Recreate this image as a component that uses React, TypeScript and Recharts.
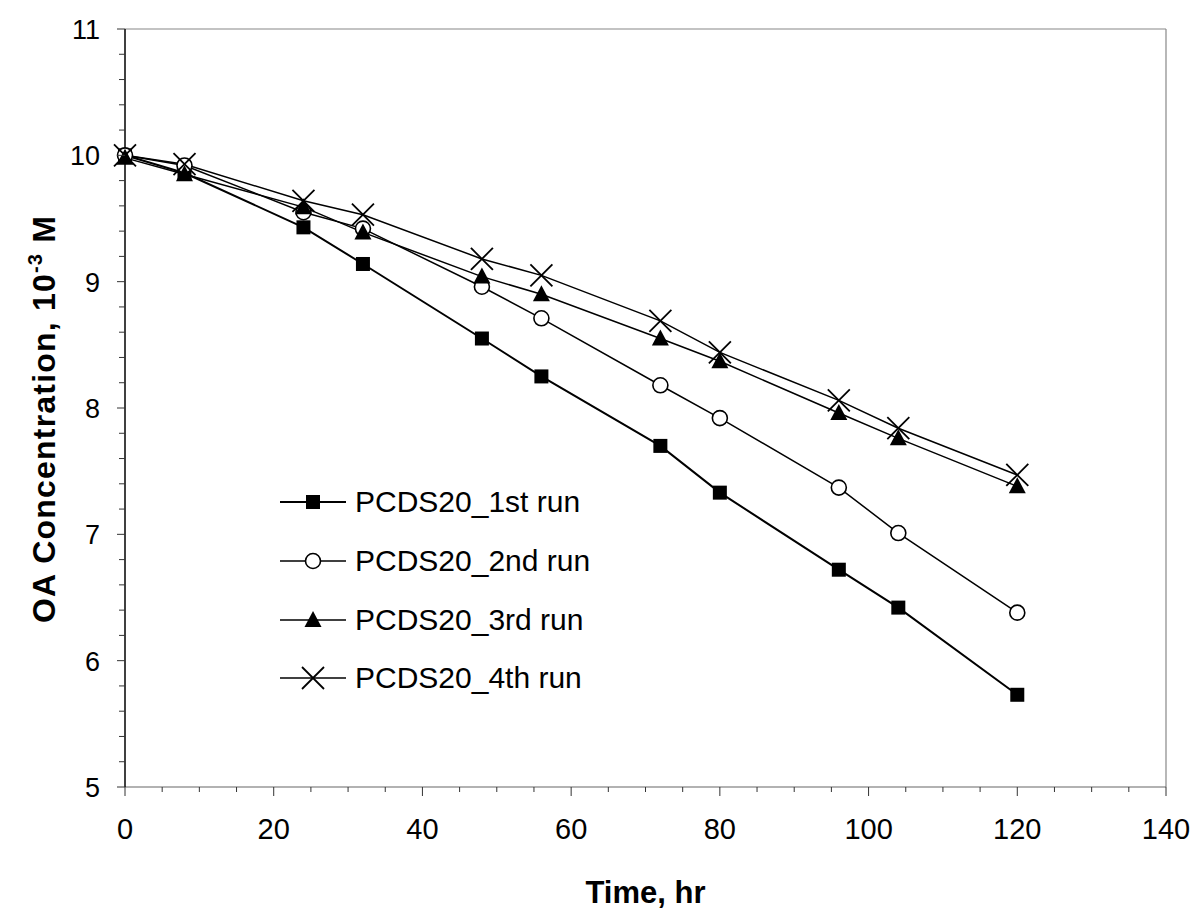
import React from "react";
import {
  LineChart,
  Line,
  XAxis,
  YAxis,
  Legend,
  ReferenceLine,
} from "recharts";

// Time (hr) and OA concentration (10^-3 M)
const times = [0, 8, 24, 32, 48, 56, 72, 80, 96, 104, 120];
const run1 = [10.0, 9.86, 9.43, 9.14, 8.55, 8.25, 7.7, 7.33, 6.72, 6.42, 5.73];
const run2 = [10.0, 9.92, 9.55, 9.42, 8.96, 8.71, 8.18, 7.92, 7.37, 7.01, 6.38];
const run3 = [9.98, 9.85, 9.59, 9.39, 9.04, 8.9, 8.55, 8.37, 7.96, 7.76, 7.38];
const run4 = [10.0, 9.93, 9.64, 9.53, 9.18, 9.05, 8.69, 8.44, 8.06, 7.84, 7.47];

const seriesNames = [
  "PCDS20_1st run",
  "PCDS20_2nd run",
  "PCDS20_3rd run",
  "PCDS20_4th run",
];

const xTicks = [
  0, 5, 10, 15, 20, 25, 30, 35, 40, 45, 50, 55, 60, 65, 70, 75, 80, 85, 90, 95,
  100, 105, 110, 115, 120, 125, 130, 135, 140,
];
const yTicks = [
  5, 5.2, 5.4, 5.6, 5.8, 6, 6.2, 6.4, 6.6, 6.8, 7, 7.2, 7.4, 7.6, 7.8, 8, 8.2,
  8.4, 8.6, 8.8, 9, 9.2, 9.4, 9.6, 9.8, 10, 10.2, 10.4, 10.6, 10.8, 11,
];

const data = times.map((t, i) => ({
  time: t,
  run1: run1[i],
  run2: run2[i],
  run3: run3[i],
  run4: run4[i],
}));

const FONT = "Arial, 'Liberation Sans', sans-serif";

// marker shapes, shared by the dots and the legend
function Marker({ kind, cx, cy }: { kind: string; cx: number; cy: number }) {
  if (kind === "square")
    return <rect x={cx - 7} y={cy - 7} width={14} height={14} fill="#000" />;
  if (kind === "circle")
    return <circle cx={cx} cy={cy} r={7.5} fill="#fff" stroke="#000" strokeWidth={1.6} />;
  if (kind === "triangle")
    return (
      <polygon
        points={`${cx},${cy - 9} ${cx - 8.5},${cy + 7} ${cx + 8.5},${cy + 7}`}
        fill="#000"
      />
    );
  return (
    <g stroke="#000" strokeWidth={1.8}>
      <line x1={cx - 11} y1={cy - 11} x2={cx + 11} y2={cy + 11} />
      <line x1={cx - 11} y1={cy + 11} x2={cx + 11} y2={cy - 11} />
    </g>
  );
}

const kinds = ["square", "circle", "triangle", "cross"];
const keys = ["run1", "run2", "run3", "run4"];
const widths = [2, 1.5, 1.5, 1.5];

const makeDot = (kind: string) => (props: any) => (
  <g key={`${kind}-${props.index}`}>
    <Marker kind={kind} cx={props.cx} cy={props.cy} />
  </g>
);

const XTick = ({ x, y, payload }: any) => {
  const major = payload.value % 20 === 0;
  return (
    <g>
      <line x1={x} x2={x} y1={y} y2={y + (major ? 9 : 5)} stroke="#333" strokeWidth={1} />
      {major && (
        <text x={x} y={y + 52} textAnchor="middle" fontSize={29} fontFamily={FONT} fill="#000">
          {payload.value}
        </text>
      )}
    </g>
  );
};

const YTick = ({ x, y, payload }: any) => {
  const v = payload.value;
  const major = Math.abs(v - Math.round(v)) < 1e-6;
  return (
    <g>
      <line x1={x - (major ? 8 : 6)} x2={x} y1={y} y2={y} stroke="#333" strokeWidth={1} />
      {major && (
        <text x={x - 25} y={y + 10} textAnchor="end" fontSize={27} fontFamily={FONT} fill="#000">
          {Math.round(v)}
        </text>
      )}
    </g>
  );
};

const renderLegend = () => (
  <div style={{ fontFamily: FONT, fontSize: 30, color: "#000" }}>
    {seriesNames.map((name, i) => (
      <div key={name} style={{ display: "flex", alignItems: "center", height: 58.7 }}>
        <svg width={66} height={30} style={{ display: "block" }}>
          <line x1={0} x2={66} y1={15} y2={15} stroke="#000" strokeWidth={widths[i]} />
          <Marker kind={kinds[i]} cx={33} cy={15} />
        </svg>
        <span style={{ marginLeft: 9, whiteSpace: "nowrap" }}>{name}</span>
      </div>
    ))}
  </div>
);

export default function App() {
  return (
    <div style={{ position: "absolute", left: 0, top: 0, background: "#fff", fontFamily: FONT }}>
      <LineChart
        width={1194}
        height={912}
        data={data}
        margin={{ top: 29, right: 28, left: 45, bottom: 45 }}
      >
        <ReferenceLine y={11} stroke="#888" strokeWidth={1.2} />
        <ReferenceLine x={140} stroke="#888" strokeWidth={1.2} />
        <XAxis
          type="number"
          dataKey="time"
          domain={[0, 140]}
          ticks={xTicks}
          interval={0}
          height={80}
          tickSize={0}
          tickMargin={0}
          tickLine={false}
          tick={<XTick />}
          axisLine={{ stroke: "#666", strokeWidth: 1.2 }}
          label={{
            content: ({ viewBox }: any) => (
              <text
                x={viewBox.x + viewBox.width / 2}
                y={viewBox.y + 116}
                textAnchor="middle"
                fontSize={31}
                fontWeight="bold"
                fontFamily={FONT}
                fill="#000"
              >
                Time, hr
              </text>
            ),
          }}
        />
        <YAxis
          type="number"
          domain={[5, 11]}
          ticks={yTicks}
          interval={0}
          width={80}
          tickSize={0}
          tickMargin={0}
          tickLine={false}
          tick={<YTick />}
          axisLine={{ stroke: "#000", strokeWidth: 1.5 }}
          label={{
            content: () => (
              <text
                x={0}
                y={0}
                transform="translate(55 419) rotate(-90)"
                textAnchor="middle"
                fontSize={32}
                fontWeight="bold"
                fontFamily={FONT}
                letterSpacing={1.2}
                fill="#000"
              >
                OA Concentration, 10
                <tspan dy={-13} fontSize={20}>-3</tspan>
                <tspan dy={13}> M</tspan>
              </text>
            ),
          }}
        />
        {keys.map((k, i) => (
          <Line
            key={k}
            type="linear"
            dataKey={k}
            name={seriesNames[i]}
            stroke="#000"
            strokeWidth={widths[i]}
            dot={makeDot(kinds[i])}
            activeDot={false}
            isAnimationActive={false}
          />
        ))}
        <Legend
          layout="vertical"
          align="center"
          verticalAlign="middle"
          content={renderLegend}
          wrapperStyle={{ left: 280, top: 473, width: 400, height: 240 }}
        />
      </LineChart>
    </div>
  );
}
